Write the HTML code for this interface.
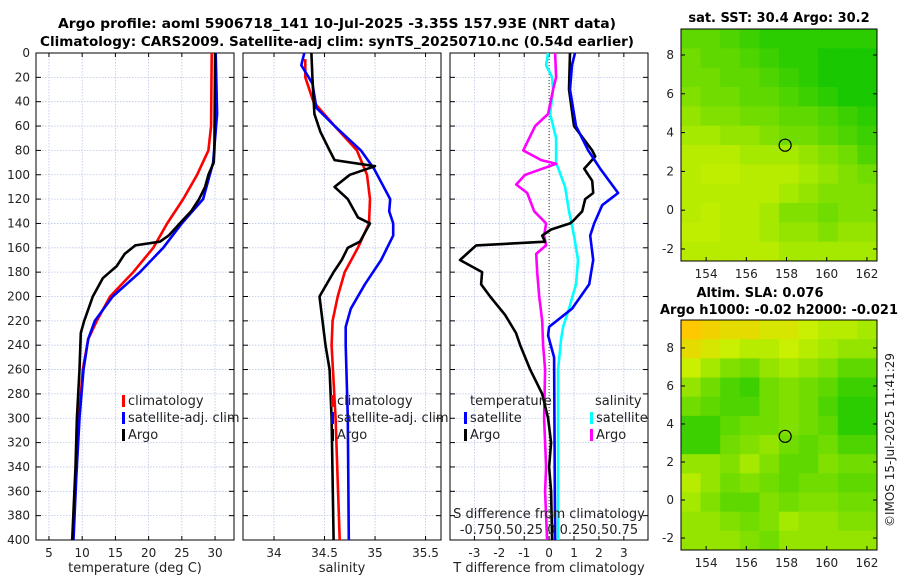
<!DOCTYPE html>
<html><head><meta charset="utf-8"><style>
body{margin:0;background:#fff}
svg{display:block;font-family:"DejaVu Sans","Liberation Sans",sans-serif}
</style></head><body>
<svg id="c" width="900" height="580" viewBox="0 0 900 580">
<text x="337" y="28" text-anchor="middle" font-size="13" font-weight="bold" textLength="558" lengthAdjust="spacingAndGlyphs">Argo profile: aoml 5906718_141 10-Jul-2025 -3.35S 157.93E (NRT data)</text>
<text x="337" y="46" text-anchor="middle" font-size="13" font-weight="bold" textLength="594" lengthAdjust="spacingAndGlyphs">Climatology: CARS2009. Satellite-adj clim: synTS_20250710.nc (0.54d earlier)</text>
<text x="779" y="22" text-anchor="middle" font-size="13" font-weight="bold">sat. SST: 30.4 Argo: 30.2</text>
<text x="760" y="297" text-anchor="middle" font-size="13" font-weight="bold">Altim. SLA: 0.076</text>
<text x="779" y="314" text-anchor="middle" font-size="13" font-weight="bold" textLength="238" lengthAdjust="spacingAndGlyphs">Argo h1000: -0.02 h2000: -0.021</text>
<text transform="translate(894,440) rotate(-90)" text-anchor="middle" font-size="12" fill="#222">©IMOS 15-Jul-2025 11:41:29</text>
</svg>
<script>
// ---- data ----
const depthTicks=[0,20,40,60,80,100,120,140,160,180,200,220,240,260,280,300,320,340,360,380,400];
const tTicks=[5,10,15,20,25,30];
const sTicks=[34,34.5,35,35.5];
const dTicks=[-3,-2,-1,0,1,2,3];
const sdTickLabels="-0.750.50.25 0 0.250.50.75";
const tClimDepth=[0,60,80,100,120,140,160,180,200,220,235,260,300,350,400];
const tClim=[29.5,29.4,29,27.3,25.2,22.8,20.7,17.7,14.2,12.2,10.9,10.1,9.5,9,8.6];
const tSatDepth=[0,50,90,120,140,160,180,200,220,235,260,300,350,400];
const tSat=[30.1,30.3,29.7,28.2,25,22.2,18.7,14.6,11.9,10.9,10.2,9.6,9.1,8.7];
const tArgoDepth=[0,80,90,100,110,120,130,140,150,155,158,165,175,185,200,220,230,260,300,340,400];
const tArgo=[30,29.9,29.8,29,28.5,27.6,26.4,24.7,23,21.7,18,16.4,15.2,13.1,11.6,10.3,9.8,9.6,9.2,9,8.5];
const sClimDepth=[5,20,40,60,80,100,120,140,160,180,200,220,240,300,400];
const sClim=[34.31,34.31,34.39,34.6,34.82,34.92,34.95,34.94,34.83,34.7,34.63,34.58,34.57,34.61,34.65];
const sSatDepth=[0,10,25,45,60,80,95,120,130,140,150,170,190,210,225,240,300,400];
const sSat=[34.3,34.27,34.38,34.42,34.6,34.86,34.99,35.15,35.14,35.18,35.18,35.06,34.9,34.76,34.71,34.71,34.73,34.74];
const sArgoDepth=[0,20,50,65,80,88,93,100,110,120,135,140,155,160,170,180,200,220,240,260,300,350,400];
const sArgo=[34.37,34.38,34.4,34.46,34.55,34.6,35.0,34.75,34.6,34.73,34.83,34.95,34.85,34.73,34.67,34.59,34.45,34.48,34.51,34.55,34.57,34.58,34.59];
const dTArgoDepth=[0,30,60,80,85,95,105,115,120,130,138,140,145,150,155,158,170,180,190,200,215,230,240,260,280,300,320,340,360,400];
const dTArgo=[0.84,0.8,1.0,1.73,1.85,1.41,1.73,1.77,1.45,1.33,0.96,0.84,0.08,-0.28,-0.16,-2.93,-3.58,-2.69,-2.73,-2.37,-1.77,-1.33,-1.16,-0.76,-0.28,-0.04,0.08,0,0.08,0.12];
const dTSatDepth=[0,10,30,60,80,95,115,125,140,150,170,190,210,225,232,250,400];
const dTSat=[1.04,0.92,0.84,1.08,1.57,2.05,2.77,2.13,1.81,1.65,1.77,1.61,0.92,0,-0.04,0.2,0.24];
const dSSatDepth=[0,10,20,30,50,70,90,110,130,150,170,190,210,225,235,260,400];
const dSSat=[-0.01,-0.03,0.03,0.04,0.01,0.07,0.07,0.16,0.2,0.25,0.29,0.27,0.2,0.14,0.12,0.09,0.09];
const dSArgoDepth=[0,20,30,50,60,70,80,88,91,100,108,115,130,140,150,158,165,180,200,220,240,260,300,340,360,400];
const dSArgo=[0.06,0.07,0.04,-0.01,-0.14,-0.2,-0.26,-0.08,0.07,-0.24,-0.33,-0.22,-0.15,-0.03,-0.05,-0.03,-0.13,-0.12,-0.1,-0.07,-0.06,-0.04,-0.05,-0.03,-0.04,-0.02];
const lonTicks=[154,156,158,160,162];
const latTicks=[-2,0,2,4,6,8];
const argoLon=157.93, argoLat=3.35;
const sstGrid=[
[.6,.6,.7,.8,.9,.9,.9,.9,.9,.9],
[.5,.6,.6,.7,.8,.9,.9,1,1,1],
[.5,.5,.6,.6,.7,.8,.9,1,1,1],
[.4,.5,.5,.6,.6,.7,.8,.9,1,1],
[.3,.4,.4,.5,.5,.6,.6,.7,.8,.9],
[.2,.2,.3,.3,.4,.5,.5,.6,.7,.8],
[.1,.1,.1,.2,.2,.2,.3,.4,.5,.7],
[.1,.05,.05,.1,.1,.1,.2,.3,.4,.5],
[.1,.1,.1,.1,.1,.2,.3,.4,.4,.4],
[.1,.05,.1,.1,.2,.4,.4,.5,.4,.4],
[.05,.05,.1,.1,.2,.3,.3,.4,.3,.3],
[.1,.1,.1,.1,.1,.2,.2,.2,.2,.2]];
const slaGrid=[
[-.4,-.3,-.2,-.2,-.1,-.1,0,.1,.1,.2],
[-.2,-.1,0,.1,.1,0,.1,.2,.3,.3],
[0,.2,.4,.5,.3,.2,.3,.4,.6,.6],
[.3,.5,.7,.8,.5,.4,.5,.6,.8,.8],
[.5,.6,.7,.7,.5,.4,.5,.7,.9,.9],
[.8,.8,.6,.5,.5,.4,.5,.6,.9,.9],
[.8,.8,.5,.4,.3,.5,.6,.5,.7,.7],
[.3,.3,.4,.2,.4,.6,.6,.4,.5,.5],
[.1,.3,.5,.4,.5,.6,.5,.5,.6,.6],
[.2,.4,.6,.6,.4,.5,.4,.4,.5,.5],
[.3,.3,.4,.5,.4,.2,.3,.3,.4,.4],
[.3,.3,.3,.4,.5,.3,.3,.3,.3,.3]];
// ---- drawing ----
const svg=document.getElementById('c');
const NS='http://www.w3.org/2000/svg';
function mk(tag,attrs,parent){const e=document.createElementNS(NS,tag);for(const k in attrs)e.setAttribute(k,attrs[k]);(parent||svg).appendChild(e);return e;}
const Y0=53,Y1=540;
const yD=d=>Y0+d/400*(Y1-Y0);
function panel(name,x0,x1,vmin,vmax,ticks,labels,xlabel){
  const g=mk('g',{});
  
  
  const sx=v=>x0+(v-vmin)/(vmax-vmin)*(x1-x0);
  ticks.forEach(t=>{mk('line',{x1:sx(t),x2:sx(t),y1:Y0,y2:Y1,stroke:'#b8c4e8','stroke-width':0.8,'stroke-dasharray':'1.5,1.5'},g);
    mk('line',{x1:sx(t),x2:sx(t),y1:Y1,y2:Y1-4,stroke:'#000'},g);mk('line',{x1:sx(t),x2:sx(t),y1:Y0,y2:Y0+4,stroke:'#000'},g);});
  depthTicks.forEach(d=>{mk('line',{x1:x0,x2:x1,y1:yD(d),y2:yD(d),stroke:'#b8c4e8','stroke-width':0.8,'stroke-dasharray':'1.5,1.5'},g);
    mk('line',{x1:x0,x2:x0+5,y1:yD(d),y2:yD(d),stroke:'#000'},g);mk('line',{x1:x1-5,x2:x1,y1:yD(d),y2:yD(d),stroke:'#000'},g);});
  if(labels){ticks.forEach((t,i)=>{const tx=mk('text',{x:sx(t),y:Y1+17,'text-anchor':'middle','font-size':12,fill:'#222'},g);tx.textContent=labels[i];
    });}
  const xl=mk('text',{x:(x0+x1)/2,y:572,'text-anchor':'middle','font-size':13,fill:'#222'},g);xl.textContent=xlabel;
  
  
  mk('rect',{x:x0,y:Y0,width:x1-x0,height:Y1-Y0,fill:'none',stroke:'#000','stroke-width':1},g);
  return {g,sx};
}
function line(p,depths,vals,color,name,scale){
  const pts=depths.map((d,i)=>p.sx(vals[i]*(scale||1)).toFixed(1)+','+yD(d).toFixed(1)).join(' ');
  const l=mk('polyline',{points:pts,fill:'none',stroke:color,'stroke-width':2.6,'stroke-linejoin':'round'},p.g);
  
  
}
function legend(g,x,y,color,label){
  mk('rect',{x:x,y:y-10,width:3,height:12,fill:color},g);
  const t=mk('text',{x:x+6,y:y,'font-size':13,fill:'#222'},g);t.textContent=label;
  
  
}
depthTicks.forEach(d=>{const t=mk('text',{x:30,y:yD(d)+4,'text-anchor':'end','font-size':12,fill:'#222'});t.textContent=d;
  
  });
const p1=panel('temperature-panel',36,234,3.05,32.85,tTicks,tTicks,'temperature (deg C)');
line(p1,tClimDepth,tClim,'#f00','temp-climatology-line');
line(p1,tSatDepth,tSat,'#00f','temp-satellite-line');
line(p1,tArgoDepth,tArgo,'#000','temp-argo-line');
legend(p1.g,122,405,'#f00','climatology');legend(p1.g,122,422,'#00f','satellite-adj. clim');legend(p1.g,122,439,'#000','Argo');
const p2=panel('salinity-panel',243,441,33.693,35.653,sTicks,sTicks,'salinity');
line(p2,sClimDepth,sClim,'#f00','sal-climatology-line');
line(p2,sSatDepth,sSat,'#00f','sal-satellite-line');
line(p2,sArgoDepth,sArgo,'#000','sal-argo-line');
legend(p2.g,331,405,'#f00','climatology');legend(p2.g,331,422,'#00f','satellite-adj. clim');legend(p2.g,331,439,'#000','Argo');
const p3=panel('difference-panel',450,648,-3.98,3.97,dTicks,dTicks,'T difference from climatology');
mk('line',{x1:p3.sx(0),x2:p3.sx(0),y1:Y0,y2:Y1,stroke:'#333','stroke-dasharray':'1,2'},p3.g);
line(p3,dSSatDepth,dSSat,'#0ff','sdiff-satellite-line',4);
line(p3,dSArgoDepth,dSArgo,'#f0f','sdiff-argo-line',4);
line(p3,dTArgoDepth,dTArgo,'#000','tdiff-argo-line');
line(p3,dTSatDepth,dTSat,'#00f','tdiff-satellite-line');
{const t=mk('text',{x:470,y:405,'font-size':13,fill:'#222'},p3.g);t.textContent='temperature';
 const s=mk('text',{x:595,y:405,'font-size':13,fill:'#222'},p3.g);s.textContent='salinity';}
legend(p3.g,464,422,'#00f','satellite');legend(p3.g,464,439,'#000','Argo');
legend(p3.g,590,422,'#0ff','satellite');legend(p3.g,590,439,'#f0f','Argo');
{const a=mk('text',{x:549,y:518,'text-anchor':'middle','font-size':13,fill:'#222'},p3.g);a.textContent='S difference from climatology';
 const b=mk('text',{x:549,y:534,'text-anchor':'middle','font-size':13,fill:'#222'},p3.g);b.textContent=sdTickLabels;}
function color(v){let a,b,t;if(v<0){a=[255,200,0];b=[200,240,0];t=1+v/0.4;}else{a=[200,240,0];b=[25,200,0];t=v;}
  t=Math.max(0,Math.min(1,t));return 'rgb('+a.map((c,i)=>Math.round(c+(b[i]-c)*t)).join(',')+')';}
function map(name,grid,x0,x1,y0,y1,latTop,latBot){
  const g=mk('g',{});
  
  
  const lon0=152.75,lon1=162.5;
  const sx=v=>x0+(v-lon0)/(lon1-lon0)*(x1-x0), sy=v=>y0+(latTop-v)/(latTop-latBot)*(y1-y0);
  const R=grid.length,C=grid[0].length,cw=(x1-x0)/C,ch=(y1-y0)/R;
  grid.forEach((row,r)=>row.forEach((v,c)=>{const cell=mk('rect',{x:x0+c*cw,y:y0+r*ch,width:cw+0.5,height:ch+0.5,fill:color(v)},g);
    
    }));
  lonTicks.forEach(t=>{mk('line',{x1:sx(t),x2:sx(t),y1:y1,y2:y1-4,stroke:'#000'},g);
    const tx=mk('text',{x:sx(t),y:y1+17,'text-anchor':'middle','font-size':12,fill:'#222'},g);tx.textContent=t;
    });
  latTicks.forEach(t=>{mk('line',{x1:x0,x2:x0+4,y1:sy(t),y2:sy(t),stroke:'#000'},g);mk('line',{x1:x1-4,x2:x1,y1:sy(t),y2:sy(t),stroke:'#000'},g);
    const tx=mk('text',{x:x0-7,y:sy(t)+4,'text-anchor':'end','font-size':12,fill:'#222'},g);tx.textContent=t;
    });
  mk('rect',{x:x0,y:y0,width:x1-x0,height:y1-y0,fill:'none',stroke:'#000'},g);
  const m=mk('circle',{cx:sx(argoLon),cy:sy(argoLat),r:6,fill:'none',stroke:'#000','stroke-width':1.2},g);
  
  
}
map('sst-map',sstGrid,681,877,29,261,9.34,-2.62);
map('sla-map',slaGrid,681,877,320,550,9.47,-2.63);
</script>
</body></html>
